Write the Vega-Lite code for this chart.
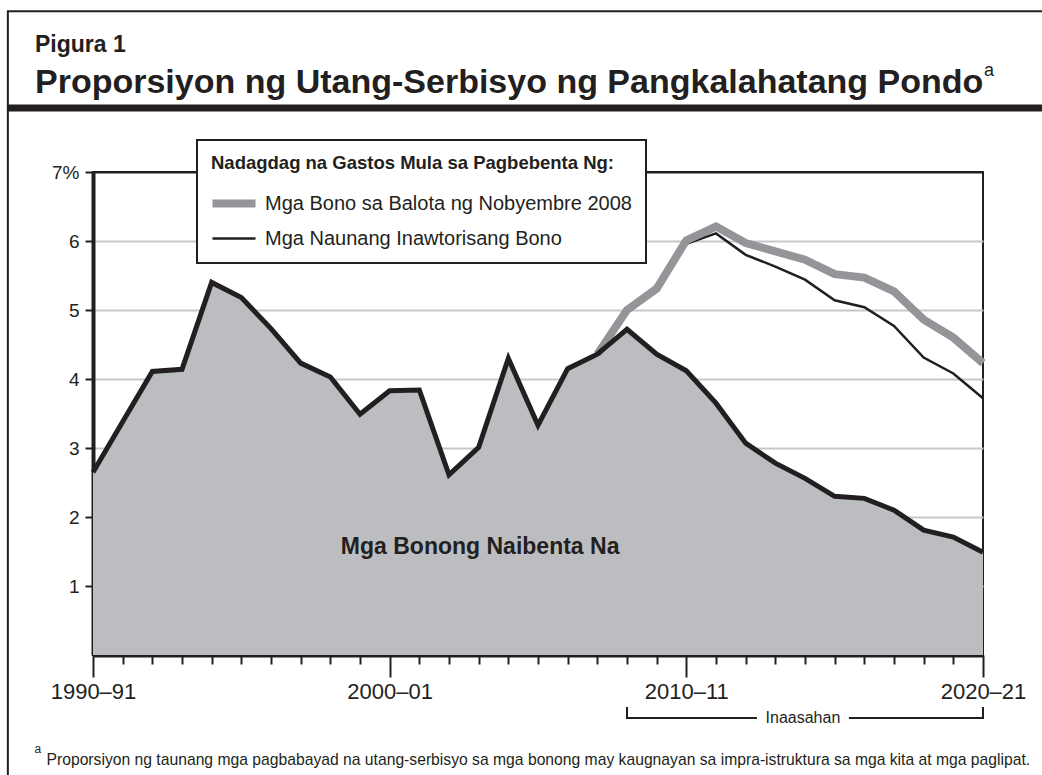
{
  "$schema": "https://vega.github.io/schema/vega-lite/v6.json",
  "width": 890,
  "height": 483,
  "autosize": {"type": "none"},
  "padding": {"left": 93, "top": 172, "right": 59, "bottom": 120},
  "background": "white",
  "title": {
    "text": "Pigura 1",
    "subtitle": "Proporsiyon ng Utang-Serbisyo ng Pangkalahatang Pondo",
    "anchor": "start",
    "frame": "group",
    "dx": -58,
    "offset": -90,
    "font": "Liberation Sans",
    "fontSize": 23,
    "fontWeight": "bold",
    "color": "#231f20",
    "subtitleFont": "Liberation Sans",
    "subtitleFontSize": 34,
    "subtitleFontWeight": "bold",
    "subtitleColor": "#231f20",
    "subtitlePadding": 9
  },
  "config": {
    "font": "Liberation Sans",
    "view": {"stroke": "#231f20", "strokeWidth": 2}
  },
  "data": {
    "values": [
      {"year": 1990, "series": "Mga Bonong Naibenta Na", "value": 2.65},
      {"year": 1991, "series": "Mga Bonong Naibenta Na", "value": 3.38},
      {"year": 1992, "series": "Mga Bonong Naibenta Na", "value": 4.11},
      {"year": 1993, "series": "Mga Bonong Naibenta Na", "value": 4.14},
      {"year": 1994, "series": "Mga Bonong Naibenta Na", "value": 5.40},
      {"year": 1995, "series": "Mga Bonong Naibenta Na", "value": 5.18},
      {"year": 1996, "series": "Mga Bonong Naibenta Na", "value": 4.73},
      {"year": 1997, "series": "Mga Bonong Naibenta Na", "value": 4.23},
      {"year": 1998, "series": "Mga Bonong Naibenta Na", "value": 4.03},
      {"year": 1999, "series": "Mga Bonong Naibenta Na", "value": 3.49},
      {"year": 2000, "series": "Mga Bonong Naibenta Na", "value": 3.83},
      {"year": 2001, "series": "Mga Bonong Naibenta Na", "value": 3.84},
      {"year": 2002, "series": "Mga Bonong Naibenta Na", "value": 2.61},
      {"year": 2003, "series": "Mga Bonong Naibenta Na", "value": 3.01},
      {"year": 2004, "series": "Mga Bonong Naibenta Na", "value": 4.30},
      {"year": 2005, "series": "Mga Bonong Naibenta Na", "value": 3.33},
      {"year": 2006, "series": "Mga Bonong Naibenta Na", "value": 4.15},
      {"year": 2007, "series": "Mga Bonong Naibenta Na", "value": 4.36},
      {"year": 2008, "series": "Mga Bonong Naibenta Na", "value": 4.72},
      {"year": 2009, "series": "Mga Bonong Naibenta Na", "value": 4.36},
      {"year": 2010, "series": "Mga Bonong Naibenta Na", "value": 4.12},
      {"year": 2011, "series": "Mga Bonong Naibenta Na", "value": 3.65},
      {"year": 2012, "series": "Mga Bonong Naibenta Na", "value": 3.07},
      {"year": 2013, "series": "Mga Bonong Naibenta Na", "value": 2.78},
      {"year": 2014, "series": "Mga Bonong Naibenta Na", "value": 2.56},
      {"year": 2015, "series": "Mga Bonong Naibenta Na", "value": 2.30},
      {"year": 2016, "series": "Mga Bonong Naibenta Na", "value": 2.27},
      {"year": 2017, "series": "Mga Bonong Naibenta Na", "value": 2.10},
      {"year": 2018, "series": "Mga Bonong Naibenta Na", "value": 1.81},
      {"year": 2019, "series": "Mga Bonong Naibenta Na", "value": 1.71},
      {"year": 2020, "series": "Mga Bonong Naibenta Na", "value": 1.49},
      {"year": 2007, "series": "Mga Naunang Inawtorisang Bono", "value": 4.36},
      {"year": 2008, "series": "Mga Naunang Inawtorisang Bono", "value": 4.97},
      {"year": 2009, "series": "Mga Naunang Inawtorisang Bono", "value": 5.30},
      {"year": 2010, "series": "Mga Naunang Inawtorisang Bono", "value": 5.96},
      {"year": 2011, "series": "Mga Naunang Inawtorisang Bono", "value": 6.11},
      {"year": 2012, "series": "Mga Naunang Inawtorisang Bono", "value": 5.80},
      {"year": 2013, "series": "Mga Naunang Inawtorisang Bono", "value": 5.63},
      {"year": 2014, "series": "Mga Naunang Inawtorisang Bono", "value": 5.44},
      {"year": 2015, "series": "Mga Naunang Inawtorisang Bono", "value": 5.14},
      {"year": 2016, "series": "Mga Naunang Inawtorisang Bono", "value": 5.04},
      {"year": 2017, "series": "Mga Naunang Inawtorisang Bono", "value": 4.77},
      {"year": 2018, "series": "Mga Naunang Inawtorisang Bono", "value": 4.31},
      {"year": 2019, "series": "Mga Naunang Inawtorisang Bono", "value": 4.08},
      {"year": 2020, "series": "Mga Naunang Inawtorisang Bono", "value": 3.72},
      {"year": 2007, "series": "Mga Bono sa Balota ng Nobyembre 2008", "value": 4.36},
      {"year": 2008, "series": "Mga Bono sa Balota ng Nobyembre 2008", "value": 5.00},
      {"year": 2009, "series": "Mga Bono sa Balota ng Nobyembre 2008", "value": 5.31},
      {"year": 2010, "series": "Mga Bono sa Balota ng Nobyembre 2008", "value": 6.01},
      {"year": 2011, "series": "Mga Bono sa Balota ng Nobyembre 2008", "value": 6.21},
      {"year": 2012, "series": "Mga Bono sa Balota ng Nobyembre 2008", "value": 5.97},
      {"year": 2013, "series": "Mga Bono sa Balota ng Nobyembre 2008", "value": 5.85},
      {"year": 2014, "series": "Mga Bono sa Balota ng Nobyembre 2008", "value": 5.73},
      {"year": 2015, "series": "Mga Bono sa Balota ng Nobyembre 2008", "value": 5.52},
      {"year": 2016, "series": "Mga Bono sa Balota ng Nobyembre 2008", "value": 5.47},
      {"year": 2017, "series": "Mga Bono sa Balota ng Nobyembre 2008", "value": 5.27},
      {"year": 2018, "series": "Mga Bono sa Balota ng Nobyembre 2008", "value": 4.86},
      {"year": 2019, "series": "Mga Bono sa Balota ng Nobyembre 2008", "value": 4.60},
      {"year": 2020, "series": "Mga Bono sa Balota ng Nobyembre 2008", "value": 4.23}
    ]
  },
  "layer": [
    {
      "transform": [{"filter": "datum.series === 'Mga Bonong Naibenta Na'"}],
      "mark": {"type": "area", "color": "#bcbdc0"},
      "encoding": {
        "x": {
          "field": "year",
          "type": "quantitative",
          "scale": {"domain": [1990, 2020], "nice": false, "zero": false},
          "axis": {
            "title": "Proporsiyon ng taunang mga pagbabayad na utang-serbisyo sa mga bonong may kaugnayan sa impra-istruktura sa mga kita at mga paglipat.",
            "values": [1990, 1991, 1992, 1993, 1994, 1995, 1996, 1997, 1998, 1999, 2000, 2001, 2002, 2003, 2004, 2005, 2006, 2007, 2008, 2009, 2010, 2011, 2012, 2013, 2014, 2015, 2016, 2017, 2018, 2019, 2020],
            "tickCount": 40,
            "labelExpr": "datum.value % 10 === 0 ? datum.value + '–' + substring(toString(datum.value + 1), 2) : ''",
            "tickSize": {"condition": {"test": "datum.value % 10 === 0", "value": 22}, "value": 9},
            "tickWidth": 2,
            "tickColor": "#231f20",
            "domainColor": "#231f20",
            "domainWidth": 4,
            "grid": false,
            "labelFontSize": 22,
            "labelColor": "#231f20",
            "labelPadding": 4,
            "labelFlush": false,
            "labelOverlap": false,
            "labelBound": false,
            "titleAnchor": "start",
            "titleAlign": "left",
            "titleBaseline": "alphabetic",
            "titleX": -47,
            "titleY": 109,
            "titleFontSize": 15.7,
            "titleFontWeight": "normal",
            "titleColor": "#231f20",
            "titleLimit": 1100
          }
        },
        "y": {
          "field": "value",
          "type": "quantitative",
          "scale": {"domain": [0, 7], "nice": false},
          "axis": {
            "title": null,
            "values": [1, 2, 3, 4, 5, 6, 7],
            "format": "d",
            "labelExpr": "datum.value === 7 ? '7%' : datum.label",
            "grid": true,
            "gridColor": {"condition": {"test": "datum.value === 7", "value": "#231f20"}, "value": "#c8c8c8"},
            "gridWidth": 2,
            "tickSize": 8,
            "tickWidth": 2,
            "tickColor": "#231f20",
            "domainColor": "#231f20",
            "domainWidth": 4,
            "labelFontSize": 19,
            "labelColor": "#231f20",
            "labelPadding": 6
          }
        }
      }
    },
    {
      "transform": [{"filter": "datum.series === 'Mga Naunang Inawtorisang Bono'"}],
      "mark": {"type": "line", "strokeJoin": "miter", "strokeWidth": 2.5},
      "encoding": {
        "x": {"field": "year", "type": "quantitative"},
        "y": {"field": "value", "type": "quantitative"},
        "color": {
          "field": "series",
          "type": "nominal",
          "scale": {"domain": ["Mga Bono sa Balota ng Nobyembre 2008", "Mga Naunang Inawtorisang Bono"], "range": ["#939598", "#231f20"]},
          "legend": {
            "title": "Nadagdag na Gastos Mula sa Pagbebenta Ng:",
            "orient": "none",
            "legendX": 104,
            "legendY": -32,
            "padding": 14,
            "strokeColor": "#231f20",
            "fillColor": "white",
            "cornerRadius": 0,
            "titleFontSize": 18.5,
            "titleFontWeight": "bold",
            "titleColor": "#231f20",
            "titlePadding": 21,
            "titleLimit": 700,
            "labelFontSize": 20,
            "labelColor": "#231f20",
            "labelLimit": 700,
            "labelOffset": 21,
            "symbolOffset": 13,
            "symbolType": "stroke",
            "symbolSize": 1849,
            "rowPadding": 9,
            "encode": {
              "legend": {"update": {"strokeWidth": {"value": 2}}},
              "symbols": {"update": {"strokeWidth": {"signal": "datum.value === 'Mga Bono sa Balota ng Nobyembre 2008' ? 8 : 2.5"}}}
            }
          }
        }
      }
    },
    {
      "transform": [{"filter": "datum.series === 'Mga Bono sa Balota ng Nobyembre 2008'"}],
      "mark": {"type": "line", "strokeJoin": "miter", "strokeWidth": 8},
      "encoding": {
        "x": {"field": "year", "type": "quantitative"},
        "y": {"field": "value", "type": "quantitative"},
        "color": {"field": "series", "type": "nominal"}
      }
    },
    {
      "transform": [{"filter": "datum.series === 'Mga Bonong Naibenta Na'"}],
      "mark": {"type": "line", "color": "#231f20", "strokeWidth": 5, "strokeJoin": "miter"},
      "encoding": {
        "x": {"field": "year", "type": "quantitative"},
        "y": {"field": "value", "type": "quantitative"}
      }
    },
    {
      "data": {"values": [{}]},
      "mark": {"type": "text", "text": "Mga Bonong Naibenta Na", "fontSize": 23, "fontWeight": "bold", "color": "#231f20", "align": "center", "baseline": "middle"},
      "encoding": {"x": {"datum": 2003.05}, "y": {"datum": 1.57}}
    },
    {
      "data": {"values": [{}]},
      "mark": {"type": "rule", "color": "#231f20", "strokeWidth": 2},
      "encoding": {"x": {"datum": 2008}, "x2": {"datum": 2012.38}, "y": {"datum": -0.913}}
    },
    {
      "data": {"values": [{}]},
      "mark": {"type": "rule", "color": "#231f20", "strokeWidth": 2},
      "encoding": {"x": {"datum": 2015.48}, "x2": {"datum": 2020}, "y": {"datum": -0.913}}
    },
    {
      "data": {"values": [{}]},
      "mark": {"type": "rule", "color": "#231f20", "strokeWidth": 2},
      "encoding": {"x": {"datum": 2008}, "y": {"datum": -0.754}, "y2": {"datum": -0.927}}
    },
    {
      "data": {"values": [{}]},
      "mark": {"type": "rule", "color": "#231f20", "strokeWidth": 2},
      "encoding": {"x": {"datum": 2020}, "y": {"datum": -0.754}, "y2": {"datum": -0.927}}
    },
    {
      "data": {"values": [{}]},
      "mark": {"type": "text", "text": "Inaasahan", "fontSize": 16, "color": "#231f20", "align": "center", "baseline": "middle"},
      "encoding": {"x": {"datum": 2013.93}, "y": {"datum": -0.92}}
    },
    {
      "data": {"values": [{}]},
      "mark": {"type": "rule", "color": "#231f20", "strokeWidth": 2},
      "encoding": {"x": {"datum": 1987.13}, "y": {"datum": 9.33}, "y2": {"datum": -2}}
    },
    {
      "data": {"values": [{}]},
      "mark": {"type": "rule", "color": "#231f20", "strokeWidth": 2},
      "encoding": {"x": {"datum": 1987.1}, "x2": {"datum": 2023}, "y": {"datum": 9.33}}
    },
    {
      "data": {"values": [{}]},
      "mark": {"type": "rule", "color": "#231f20", "strokeWidth": 7},
      "encoding": {"x": {"datum": 1987.1}, "x2": {"datum": 2023}, "y": {"datum": 7.928}}
    },
    {
      "data": {"values": [{}]},
      "mark": {"type": "text", "text": "a", "fontSize": 18, "color": "#231f20", "align": "left", "baseline": "middle"},
      "encoding": {"x": {"datum": 2020.03}, "y": {"datum": 8.46}}
    },
    {
      "data": {"values": [{}]},
      "mark": {"type": "text", "text": "a", "fontSize": 12, "color": "#231f20", "align": "left", "baseline": "middle"},
      "encoding": {"x": {"datum": 1988.03}, "y": {"datum": -1.36}}
    }
  ]
}
